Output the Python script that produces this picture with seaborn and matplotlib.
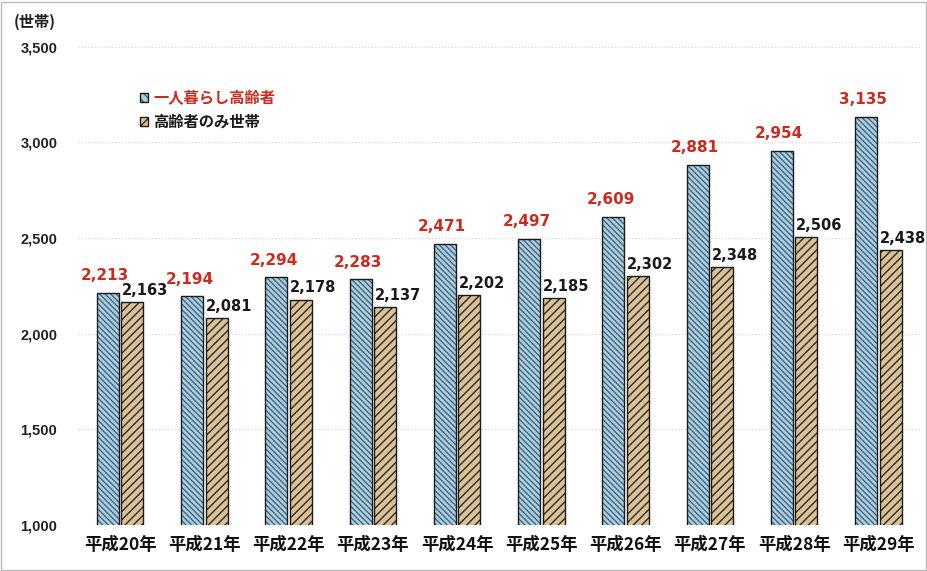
import matplotlib
matplotlib.use("Agg")
import matplotlib.pyplot as plt
import seaborn as sns
import pandas as pd
from matplotlib.patches import Rectangle

years = ["平成20年", "平成21年", "平成22年", "平成23年", "平成24年",
         "平成25年", "平成26年", "平成27年", "平成28年", "平成29年"]
single_elderly = [2213, 2194, 2294, 2283, 2471, 2497, 2609, 2881, 2954, 3135]
elderly_only = [2163, 2081, 2178, 2137, 2202, 2185, 2302, 2348, 2506, 2438]
series_names = ["一人暮らし高齢者", "高齢者のみ世帯"]
yticks = [1000, 1500, 2000, 2500, 3000, 3500]

df = pd.DataFrame({
    "year": years * 2,
    "value": single_elderly + elderly_only,
    "series": [series_names[0]] * len(years) + [series_names[1]] * len(years),
})

sns.set_theme(style="white")
plt.rcParams["font.family"] = ["Noto Sans CJK JP", "DejaVu Sans"]
plt.rcParams["hatch.linewidth"] = 0.9

fig = plt.figure(figsize=(9.28, 5.71), dpi=100)
ax = fig.add_axes([0.084, 0.081, 0.908, 0.837])

face = {series_names[0]: "#a9cfe0", series_names[1]: "#e6c489"}
sns.barplot(data=df, x="year", y="value", hue="series", order=years,
            hue_order=series_names, palette=face, width=0.58, gap=0.1,
            edgecolor="#1a1a1a", linewidth=1.0, ax=ax, legend=False)

hatch_colors = ["#2e5f86", "#1a1a1a"]
label_colors = ["#cc2a1e", "#1a1a1a"]
label_shift = [(-2, 7), (9, 3)]
label_size = [11, 10.5]
series_vals = [single_elderly, elderly_only]
for i, cont in enumerate(ax.containers):
    for bar, v in zip(cont, series_vals[i]):
        bar.set_hatch("\\\\\\\\\\\\" if i == 0 else "////")
        bar.set_edgecolor("#1a1a1a")
        bar._hatch_color = matplotlib.colors.to_rgba(hatch_colors[i])
        cx = bar.get_x() + bar.get_width() / 2
        ax.annotate(f"{v:,}", xy=(cx, bar.get_height()), xytext=label_shift[i],
                    textcoords="offset points", ha="center", va="bottom",
                    fontsize=label_size[i], fontweight="bold", color=label_colors[i],
                    family=["DejaVu Sans"])

ax.set_ylim(1000, 3500)
ax.set_xlim(-0.5, len(years) - 0.5)
ax.set_yticks(yticks)
ax.set_yticklabels([f"{v:,}" for v in yticks], fontsize=10.5, fontweight="bold",
                   color="#222222", family=["Liberation Sans"])
for lbl in ax.get_yticklabels():
    lbl.set_horizontalalignment("left")
ax.tick_params(axis="y", pad=41.5, length=0)
ax.tick_params(axis="x", length=0, pad=8)
ax.set_xticks(range(len(years)))
ax.set_xticklabels(years, fontsize=12.5, fontweight="bold", color="#111111")
ax.set_xlabel("")
ax.set_ylabel("")
ax.grid(axis="y", color="#cfcfcf", linestyle=(0, (1, 2)), linewidth=0.8)
ax.set_axisbelow(True)
for s in ax.spines.values():
    s.set_visible(False)

fig.text(0.015, 0.962, "(世帯)", fontsize=11, fontweight="bold", color="#222222",
         ha="left", va="center")

# legend
leg_x = 0.151
for k, (name, tc) in enumerate(zip(series_names, label_colors)):
    y = 0.830 - k * 0.043
    r = Rectangle((leg_x, y - 0.008), 0.009, 0.016, transform=fig.transFigure,
                  facecolor=face[name], edgecolor="#1a1a1a", linewidth=1.0,
                  hatch="\\\\\\\\" if k == 0 else "///")
    r._hatch_color = matplotlib.colors.to_rgba(hatch_colors[k])
    fig.add_artist(r)
    fig.text(leg_x + 0.014, y, name, fontsize=11, fontweight="bold", color=tc,
             ha="left", va="center")

fig.add_artist(Rectangle((0.001, 0.002), 0.997, 0.995, transform=fig.transFigure,
                         fill=False, edgecolor="#bbbbbb", linewidth=1.0))

fig.savefig("out.png", dpi=100)
